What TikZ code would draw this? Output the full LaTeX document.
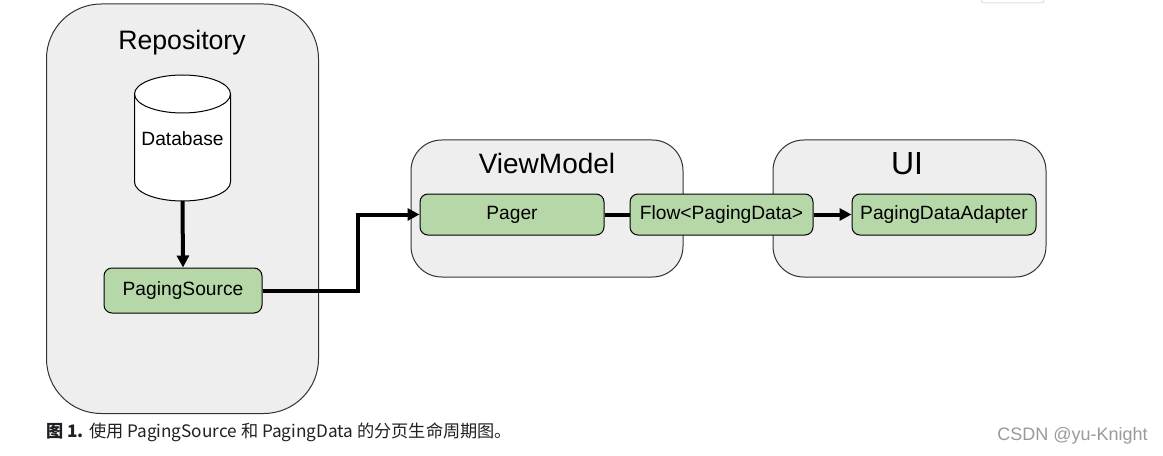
\documentclass[tikz,border=0pt]{standalone}
\usepackage{fontspec}
\setmainfont{Liberation Sans}
\newfontfamily\cjk{Noto Sans CJK SC}
\usetikzlibrary{arrows.meta}
\definecolor{boxgray}{HTML}{EEEEEE}
\definecolor{boxgreen}{HTML}{B6D7A8}
\definecolor{edgegray}{HTML}{333333}
\definecolor{captext}{HTML}{202124}
\definecolor{wmgray}{HTML}{9A9A9A}
\tikzset{
  container/.style={draw=edgegray, line width=0.75pt, fill=boxgray},
  greenbox/.style={draw=black, line width=0.75pt, fill=boxgreen, rounded corners=6pt,
    inner sep=0pt, font=\fontsize{14.4}{16}\selectfont},
  titletext/.style={inner sep=0pt},
  conn/.style={line width=3pt, black},
  tip/.style={-{Triangle[length=9pt,width=9pt]}},
}
\begin{document}
\begin{tikzpicture}[x=0.75pt,y=-0.75pt]
\useasboundingbox[fill=white] (0,0) rectangle (1163,456);
% remnant box at top right
\draw[gray!25, line width=0.75pt, rounded corners=2pt] (981,-10) rectangle (1044,3);
% containers
\node[container, rounded corners=41pt, minimum width={272*0.75pt}, minimum height={409.5*0.75pt}, inner sep=0pt] (repo) at (182.5,208.75) {};
\node[container, rounded corners=23pt, minimum width={272*0.75pt}, minimum height={137*0.75pt}, inner sep=0pt] (vm) at (547,208.5) {};
\node[container, rounded corners=23pt, minimum width={273*0.75pt}, minimum height={137*0.75pt}, inner sep=0pt] (ui) at (909.5,208.5) {};
\node[titletext, font=\fontsize{20}{24}\selectfont] (repot) at (182,43) {Repository};
\node[titletext, font=\fontsize{21}{25}\selectfont] (vmt) at (547,163) {ViewModel};
\node[titletext, font=\fontsize{24}{28}\selectfont] (uit) at (907,164) {UI};
% database cylinder
\path[draw=black, line width=0.75pt, fill=white]
  (134.5,94) -- (134.5,182) arc[start angle=180, end angle=0, x radius=48, y radius=19]
  -- (230.5,94) arc[start angle=0, end angle=-180, x radius=48, y radius=19] -- cycle;
\draw[black, line width=0.75pt] (134.5,94) arc[start angle=180, end angle=0, x radius=48, y radius=19];
\node[titletext, font=\fontsize{14.4}{16}\selectfont] (db) at (182.5,139) {Database};
\coordinate (dbbot) at (182.5,201);
% green boxes
\node[greenbox, minimum width={158*0.75pt}, minimum height={45*0.75pt}] (ps) at (183,290.5) {PagingSource};
\node[greenbox, minimum width={184*0.75pt}, minimum height={41*0.75pt}] (pager) at (512,214.5) {Pager};
\node[greenbox, minimum width={183*0.75pt}, minimum height={41*0.75pt}] (flow) at (721.5,214.5) {Flow<PagingData>};
\node[greenbox, minimum width={184*0.75pt}, minimum height={41*0.75pt}] (pda) at (944,214.5) {PagingDataAdapter};
% connectors
\coordinate (bend) at (358,250);
\draw[conn, tip] (dbbot) -- (ps.north);
\draw[conn, tip, line join=miter] (ps.east) -- (ps.east -| bend) -- (bend |- pager.west) -- (pager.west);
\draw[conn] (pager.east) -- (flow.west);
\draw[conn, tip] (flow.east) -- (pda.west);
% caption
\node[anchor=west, inner sep=0pt, text=captext, font=\cjk\fontsize{12.9}{15}\selectfont] (cap) at (46,432)
  {{\bfseries 图 1.} 使用 PagingSource 和 PagingData 的分页生命周期图。};
\node[anchor=west, inner sep=0pt, text=wmgray, font=\fontsize{13.5}{16}\selectfont] (wm) at (997,436) {CSDN @yu-Knight};
\end{tikzpicture}
\end{document}
